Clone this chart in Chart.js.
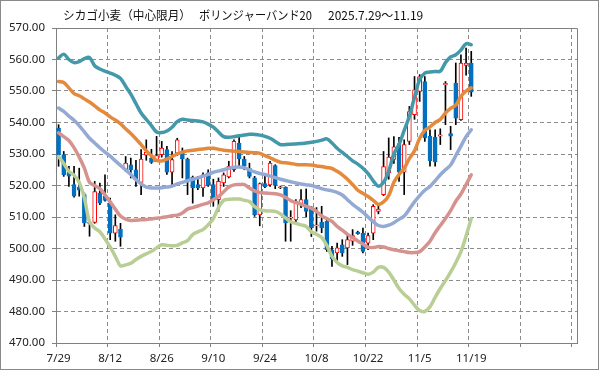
<!DOCTYPE html>
<html>
<head>
<meta charset="utf-8">
<script src="https://cdn.jsdelivr.net/npm/chart.js@4.4.1/dist/chart.umd.min.js"></script>
<style>
  html, body { margin: 0; padding: 0; background: #fff; }
  canvas { display: block; }
</style>
</head>
<body>
<canvas id="bbChart" width="599" height="370"></canvas>
<script>
// trading days 2025/7/29 - 11/19
const dates = [
  '7/29','7/30','7/31','8/1','8/4','8/5','8/6','8/7','8/8','8/11',
  '8/12','8/13','8/14','8/15','8/18','8/19','8/20','8/21','8/22','8/25',
  '8/26','8/27','8/28','8/29','9/2','9/3','9/4','9/5','9/8','9/9',
  '9/10','9/11','9/12','9/15','9/16','9/17','9/18','9/19','9/22','9/23',
  '9/24','9/25','9/26','9/29','9/30','10/1','10/2','10/3','10/6','10/7',
  '10/8','10/9','10/10','10/13','10/14','10/15','10/16','10/17','10/20','10/21',
  '10/22','10/23','10/24','10/27','10/28','10/29','10/30','10/31','11/3','11/4',
  '11/5','11/6','11/7','11/10','11/11','11/12','11/13','11/14','11/17','11/18',
  '11/19'
];

const open = [
  538.2,529.8,524.3,520.3,519.5,517.1,508.0,508.3,517.6,516.6,
  514.4,504.9,506.2,525.0,526.6,525.0,521.0,529.6,528.7,527.6,
  529.8,531.4,524.2,530.3,530.8,528.4,522.7,520.3,519.2,524.0,
  520.3,515.5,520.8,522.7,525.0,533.5,528.4,525.5,522.4,510.7,
  520.6,520.2,526.3,519.3,519.5,509.6,509.1,514.2,515.5,513.2,
  507.2,508.3,508.6,499.6,498.6,501.2,500.2,502.3,505.2,504.9,
  501.7,504.9,511.8,517.1,524.0,528.3,533.3,524.2,534.0,542.5,
  549.9,553.0,535.6,535.4,535.7,551.9,536.5,552.5,540.9,558.1,
  558.9
];
const high = [
  539.3,530.8,526.1,526.1,525.5,517.6,508.6,521.3,520.8,523.4,
  516.0,510.7,508.0,529.2,528.7,528.0,531.4,534.5,531.5,535.6,
  534.0,532.4,530.8,535.0,531.9,528.7,523.0,522.9,524.0,525.0,
  522.0,522.4,524.0,527.7,534.5,535.6,529.2,527.1,522.9,520.8,
  523.4,527.7,526.6,519.8,519.6,512.0,515.5,518.7,518.9,513.4,
  513.0,513.4,509.1,500.7,501.7,502.8,504.4,506.0,505.5,506.5,
  504.9,513.9,513.9,530.8,535.1,535.5,535.3,534.5,545.1,554.6,
  555.2,554.6,537.7,537.7,538.0,553.0,538.8,558.9,561.5,563.6,
  562.6
];
const low = [
  526.1,522.9,519.7,516.3,516.6,507.0,503.9,508.0,513.9,515.0,
  502.8,502.3,500.7,524.5,522.4,519.7,517.1,528.0,527.0,527.6,
  529.0,523.5,520.2,529.5,522.4,517.1,514.4,518.7,516.5,519.7,
  513.4,511.8,519.7,522.4,524.5,526.1,525.0,522.4,510.2,507.2,
  519.3,519.7,519.0,519.0,502.3,502.3,508.0,513.0,510.0,503.8,
  505.5,505.0,499.1,494.3,495.4,497.5,494.9,501.0,504.5,498.6,
  499.6,502.8,511.0,516.8,522.0,527.0,521.3,517.1,533.0,541.0,
  546.7,534.0,526.1,526.1,533.0,539.3,531.4,539.3,540.7,555.0,
  548.3
];
const close = [
  529.8,523.4,523.0,516.6,518.5,508.1,508.4,518.1,514.4,515.3,
  504.9,507.3,503.6,527.1,525.0,521.8,528.4,530.5,527.3,529.5,
  531.9,524.2,528.2,534.5,528.4,521.8,519.2,519.2,523.4,520.0,
  515.5,521.3,523.4,526.1,534.0,528.4,526.1,522.9,510.7,520.6,
  519.6,527.1,520.0,519.6,508.1,510.0,515.0,515.5,511.8,506.6,
  507.5,506.5,499.6,496.7,500.2,498.6,502.8,504.1,504.7,499.1,
  504.1,513.4,512.5,526.0,529.0,532.3,524.2,533.0,543.5,550.4,
  554.6,535.1,527.9,527.5,536.1,552.5,535.7,541.4,558.9,558.9,
  549.6
];

// Bollinger bands (20)
const plus2 = [
  560.5,561.7,560.0,559.0,559.3,560.3,560.6,558.0,557.0,556.3,
  555.7,555.0,554.0,551.5,549.0,546.0,543.0,541.0,539.0,537.0,
  536.8,537.3,538.5,540.3,541.0,540.8,540.6,540.5,540.2,539.5,
  538.5,537.0,535.5,535.3,535.5,535.8,536.0,536.3,536.2,536.0,
  535.6,535.0,534.0,533.0,533.0,533.1,533.2,533.3,533.5,533.7,
  534.0,534.4,534.8,533.5,531.8,530.5,529.2,527.8,526.8,525.5,
  523.8,521.5,519.8,521.0,524.5,530.0,533.0,537.5,542.0,548.0,
  553.6,555.7,556.0,556.2,556.3,559.0,560.8,561.5,563.0,565.0,
  564.7
];
const plus1 = [
  553.0,552.7,551.0,549.2,548.5,547.5,546.5,545.3,544.0,543.0,
  541.8,540.8,539.6,538.0,536.5,534.8,533.0,531.0,529.5,528.0,
  527.8,528.4,529.2,530.0,530.6,531.0,531.2,531.4,531.6,531.8,
  531.8,531.5,531.2,531.0,530.9,530.8,530.6,530.5,530.4,530.2,
  529.5,528.8,528.0,527.4,527.2,527.0,526.7,526.6,526.6,526.5,
  526.2,526.0,525.7,525.4,524.5,523.4,522.0,520.3,518.5,517.5,
  516.5,515.3,514.0,514.8,516.8,521.0,523.5,525.5,528.5,531.0,
  535.0,537.5,538.6,540.0,541.0,543.0,544.5,545.5,548.3,550.0,
  551.0
];
const ma20 = [
  544.6,543.5,542.0,540.7,539.0,537.0,535.0,533.5,532.0,530.6,
  529.3,527.8,526.4,525.0,523.5,521.8,520.5,519.5,519.2,519.2,
  519.3,519.5,519.8,520.5,521.0,521.5,522.0,522.4,523.0,523.5,
  524.2,524.6,525.0,525.5,525.8,525.9,525.6,525.0,524.3,523.8,
  523.5,523.0,522.5,522.0,521.6,521.2,520.8,520.5,520.2,520.0,
  519.5,519.0,518.6,518.3,517.8,517.0,515.5,514.0,512.8,511.5,
  510.0,508.5,507.3,507.0,507.4,508.2,509.3,510.3,512.5,514.8,
  516.8,518.5,519.7,521.5,523.4,525.0,526.5,529.5,532.5,535.5,
  537.7
];
const minus1 = [
  536.7,535.5,534.3,532.0,529.0,525.5,521.0,520.0,519.0,517.0,
  514.8,512.5,510.3,509.3,508.9,509.0,509.1,509.2,509.4,509.6,
  509.8,510.1,510.4,510.6,511.3,512.5,513.0,513.5,514.0,514.5,
  515.5,516.5,518.0,519.5,520.2,520.3,520.3,519.2,518.3,517.8,
  517.6,517.5,517.4,517.0,516.2,515.2,514.6,514.1,513.4,512.8,
  511.8,510.3,509.5,508.6,507.0,505.8,504.5,503.5,502.4,501.4,
  500.4,500.3,500.6,500.5,500.0,499.6,499.3,499.0,498.7,498.7,
  499.0,500.5,502.3,505.0,507.3,509.5,512.0,515.0,517.3,520.3,
  523.4
];
const minus2 = [
  529.2,527.0,524.5,523.3,521.0,516.0,508.5,506.5,505.3,503.0,
  500.5,497.5,494.5,494.8,495.3,496.5,497.5,498.3,499.1,500.2,
  501.2,501.0,500.9,501.0,501.8,502.5,504.4,505.3,506.0,507.5,
  509.5,513.0,515.3,515.6,515.7,515.7,515.3,514.9,513.3,512.3,
  512.0,511.9,511.8,511.0,509.7,508.5,508.0,507.5,507.0,505.3,
  504.5,503.5,501.0,497.5,495.6,494.5,494.0,493.3,492.8,492.3,
  491.8,492.5,494.0,494.0,492.5,490.0,487.3,485.5,484.0,482.0,
  480.3,480.0,481.5,484.5,487.3,489.8,492.5,495.5,499.0,504.0,
  509.5
];

const xTicks = [0, 10, 20, 30, 40, 50, 60, 70, 80, 90, 100];
const title = ['シカゴ小麦（中心限月）', 'ボリンジャーバンド20', '2025.7.29～11.19'];

const pt = arr => arr.map((v, i) => ({ x: i + 0.5, y: v }));
const up = open.map((o, i) => close[i] >= o);

const bandLine = (label, data, color) => ({
  type: 'line',
  label: label,
  data: pt(data),
  borderColor: color,
  borderWidth: 3.5,
  pointRadius: 0,
  tension: 0.35,
  borderCapStyle: 'round',
  borderJoinStyle: 'round',
  order: 1
});

const framePlugin = {
  id: 'frame',
  afterDraw(chart) {
    const { ctx, chartArea: a } = chart;
    ctx.save();
    ctx.strokeStyle = '#808080';
    ctx.lineWidth = 1;
    ctx.beginPath();
    ctx.moveTo(Math.round(a.left) + 0.5, Math.round(a.top) + 0.5);
    ctx.lineTo(Math.round(a.right) + 0.5, Math.round(a.top) + 0.5);
    ctx.lineTo(Math.round(a.right) + 0.5, Math.round(a.bottom) + 0.5);
    ctx.stroke();
    ctx.strokeStyle = '#8a8a8a';
    ctx.strokeRect(0.5, 0.5, chart.width - 1, chart.height - 1);
    // title
    ctx.fillStyle = '#111';
    ctx.font = '12px "Noto Sans CJK JP", sans-serif';
    ctx.textBaseline = 'middle';
    ctx.fillText(title[0], 63, 15, 128);
    ctx.fillText(title[1], 199, 15, 113);
    ctx.fillText(title[2], 328, 15, 98);
    ctx.restore();
  }
};

new Chart(document.getElementById('bbChart'), {
  type: 'line',
  data: {
    datasets: [
      bandLine('+2σ', plus2, '#4398a9'),
      bandLine('+1σ', plus1, '#e48a3c'),
      bandLine('MA20', ma20, '#94aad4'),
      bandLine('-1σ', minus1, '#d5938f'),
      bandLine('-2σ', minus2, '#b8ce94'),
      {
        type: 'bar',
        label: 'body',
        data: open.map((o, i) => ({ x: i + 0.5, y: [o, close[i]] })),
        backgroundColor: up.map(u => u ? '#ffffff' : '#0070c0'),
        borderColor: up.map(u => u ? '#ff0000' : '#0070c0'),
        borderWidth: 1,
        borderSkipped: false,
        barThickness: 4,
        grouped: false,
        order: 2
      },
      {
        type: 'bar',
        label: 'wick',
        data: low.map((l, i) => ({ x: i + 0.5, y: [l, high[i]] })),
        backgroundColor: '#000000',
        borderWidth: 0,
        barThickness: 1,
        grouped: false,
        order: 3
      }
    ]
  },
  options: {
    responsive: false,
    animation: false,
    devicePixelRatio: 1,
    layout: { padding: { left: 0, top: 28, right: 22, bottom: 0 } },
    plugins: { legend: { display: false }, tooltip: { enabled: false } },
    scales: {
      x: {
        type: 'linear',
        min: 0,
        max: 101,
        offset: false,
        afterBuildTicks: axis => { axis.ticks = xTicks.map(v => ({ value: v })); },
        afterFit: axis => { axis.height = 27; },
        grid: { color: '#8c8c8c', tickColor: '#808080', tickLength: 4, tickBorderDash: [], offset: false },
        border: { color: '#808080', dash: [4, 3] },
        ticks: {
          autoSkip: false,
          maxRotation: 0,
          padding: 5,
          labelOffset: 2.6,
          color: '#222',
          font: { family: '"Noto Sans", sans-serif', size: 11.5 },
          callback: v => dates[v] || ''
        }
      },
      y: {
        min: 470,
        max: 570,
        afterFit: axis => { axis.width = 56; },
        grid: { color: '#8c8c8c', tickColor: '#808080', tickLength: 4, tickBorderDash: [] },
        border: { color: '#808080', dash: [4, 3] },
        ticks: {
          stepSize: 10,
          padding: 7,
          color: '#222',
          font: { family: '"Noto Sans", sans-serif', size: 11.5 },
          callback: v => v.toFixed(2)
        }
      }
    }
  },
  plugins: [framePlugin]
});
</script>
</body>
</html>
